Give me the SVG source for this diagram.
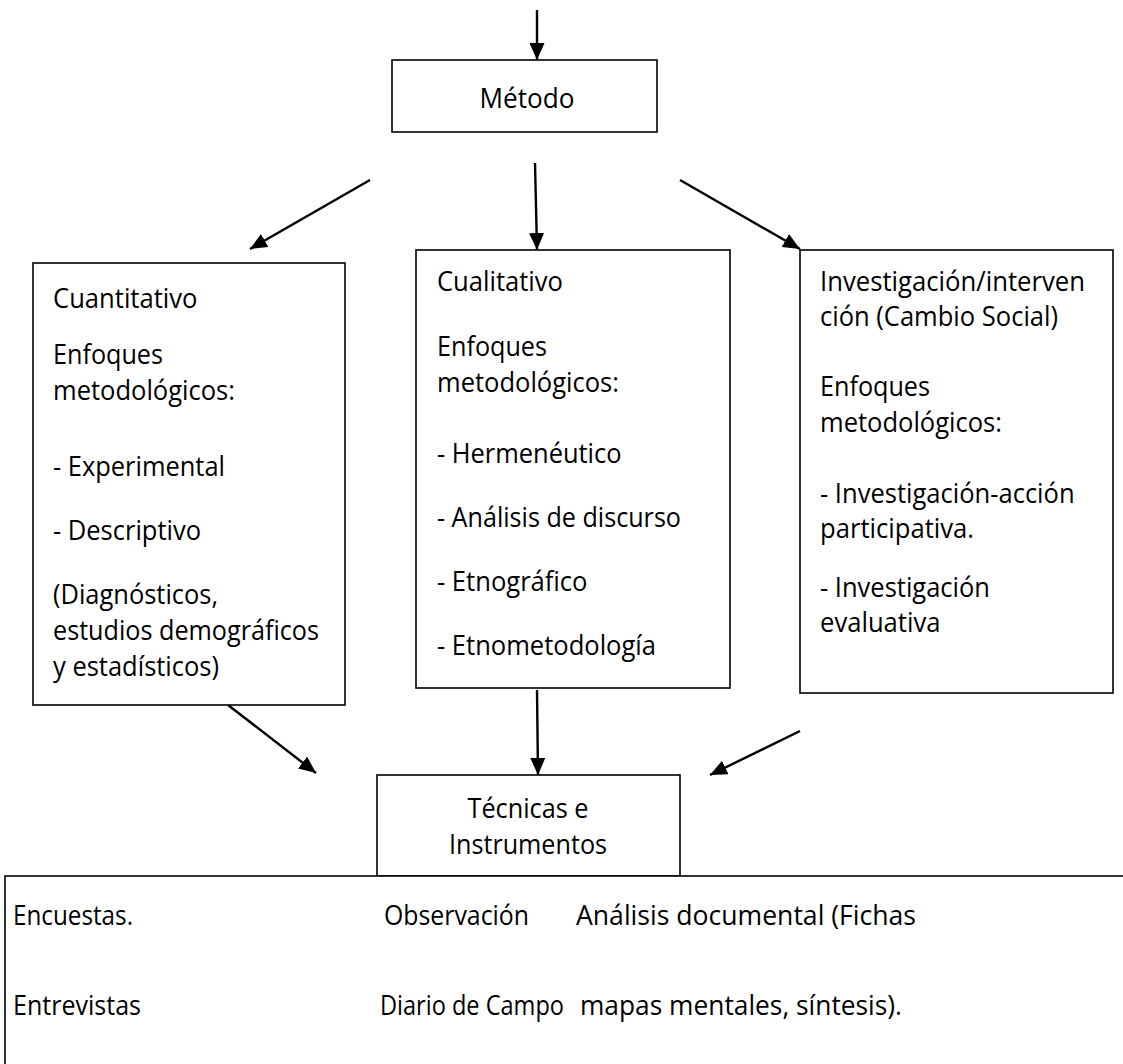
<svg xmlns="http://www.w3.org/2000/svg" width="1123" height="1064" viewBox="0 0 1123 1064">
<style>
.box{fill:#fff;stroke:#000;stroke-width:1.6}
.t{font-family:"Open Sans","Noto Sans","Liberation Sans",sans-serif;font-size:27px;fill:#000}
.m{text-anchor:middle}
.c{stroke:#000;stroke-width:2.4;fill:none;marker-end:url(#ah)}
</style>
<defs>
<marker id="ah" viewBox="0 0 17 15" refX="17" refY="7.5" markerWidth="17" markerHeight="15" markerUnits="userSpaceOnUse" orient="auto">
<path d="M0,0 L17,7.5 L0,15 z" fill="#000"/>
</marker>
</defs>
<g id="connectors">
<line class="c" x1="537" y1="10" x2="537" y2="60"/>
<line class="c" x1="370" y1="180" x2="250" y2="249"/>
<line class="c" x1="535" y1="163" x2="537" y2="250"/>
<line class="c" x1="680" y1="180" x2="800" y2="249"/>
<line class="c" x1="228" y1="705" x2="316" y2="773"/>
<line class="c" x1="537" y1="690" x2="538" y2="775"/>
<line class="c" x1="800" y1="731" x2="710" y2="775"/>
</g>
<g id="metodo">
<rect class="box" x="392" y="60" width="265" height="72"/>
<text class="t m" x="527" y="108" textLength="95" lengthAdjust="spacingAndGlyphs">Método</text>
</g>
<g id="cuantitativo">
<rect class="box" x="33" y="263" width="312" height="442"/>
<text class="t" x="53" y="308" textLength="144.5" lengthAdjust="spacingAndGlyphs">Cuantitativo</text>
<text class="t" x="53" y="364" textLength="110" lengthAdjust="spacingAndGlyphs">Enfoques</text>
<text class="t" x="53" y="400" textLength="182" lengthAdjust="spacingAndGlyphs">metodológicos:</text>
<text class="t" x="53" y="476" textLength="172" lengthAdjust="spacingAndGlyphs">- Experimental</text>
<text class="t" x="53" y="540" textLength="148" lengthAdjust="spacingAndGlyphs">- Descriptivo</text>
<text class="t" x="53" y="604" textLength="165" lengthAdjust="spacingAndGlyphs">(Diagnósticos,</text>
<text class="t" x="53" y="640" textLength="266" lengthAdjust="spacingAndGlyphs">estudios demográficos</text>
<text class="t" x="53" y="676" textLength="166" lengthAdjust="spacingAndGlyphs">y estadísticos)</text>
</g>
<g id="cualitativo">
<rect class="box" x="416" y="250" width="314" height="438"/>
<text class="t" x="437" y="291" textLength="126" lengthAdjust="spacingAndGlyphs">Cualitativo</text>
<text class="t" x="437" y="356" textLength="110" lengthAdjust="spacingAndGlyphs">Enfoques</text>
<text class="t" x="437" y="392" textLength="182" lengthAdjust="spacingAndGlyphs">metodológicos:</text>
<text class="t" x="437" y="463" textLength="184.5" lengthAdjust="spacingAndGlyphs">- Hermenéutico</text>
<text class="t" x="437" y="527" textLength="244" lengthAdjust="spacingAndGlyphs">- Análisis de discurso</text>
<text class="t" x="437" y="591" textLength="150.5" lengthAdjust="spacingAndGlyphs">- Etnográfico</text>
<text class="t" x="437" y="655" textLength="219" lengthAdjust="spacingAndGlyphs">- Etnometodología</text>
</g>
<g id="investigacion">
<rect class="box" x="800" y="250" width="313" height="443"/>
<text class="t" x="820" y="291" textLength="265" lengthAdjust="spacingAndGlyphs">Investigación/interven</text>
<text class="t" x="820" y="326" textLength="238" lengthAdjust="spacingAndGlyphs">ción (Cambio Social)</text>
<text class="t" x="820" y="396" textLength="110" lengthAdjust="spacingAndGlyphs">Enfoques</text>
<text class="t" x="820" y="432" textLength="182" lengthAdjust="spacingAndGlyphs">metodológicos:</text>
<text class="t" x="820" y="503" textLength="254.6" lengthAdjust="spacingAndGlyphs">- Investigación-acción</text>
<text class="t" x="820" y="538" textLength="154" lengthAdjust="spacingAndGlyphs">participativa.</text>
<text class="t" x="820" y="597" textLength="170" lengthAdjust="spacingAndGlyphs">- Investigación</text>
<text class="t" x="820" y="632" textLength="120.5" lengthAdjust="spacingAndGlyphs">evaluativa</text>
</g>
<g id="tecnicas">
<rect class="box" x="377" y="775" width="303" height="101"/>
<text class="t m" x="528" y="818" textLength="121" lengthAdjust="spacingAndGlyphs">Técnicas e</text>
<text class="t m" x="528" y="854" textLength="158" lengthAdjust="spacingAndGlyphs">Instrumentos</text>
</g>
<g id="listado">
<rect class="box" x="5" y="876" width="1140" height="220"/>
<text class="t" x="13" y="925" textLength="120" lengthAdjust="spacingAndGlyphs">Encuestas.</text>
<text class="t" x="384" y="925" textLength="145" lengthAdjust="spacingAndGlyphs">Observación</text>
<text class="t" x="576" y="925" textLength="340" lengthAdjust="spacingAndGlyphs">Análisis documental (Fichas</text>
<text class="t" x="13" y="1015" textLength="128" lengthAdjust="spacingAndGlyphs">Entrevistas</text>
<text class="t" x="380" y="1015" textLength="184" lengthAdjust="spacingAndGlyphs">Diario de Campo</text>
<text class="t" x="580" y="1015" textLength="322" lengthAdjust="spacingAndGlyphs">mapas mentales, síntesis).</text>
</g>
</svg>
